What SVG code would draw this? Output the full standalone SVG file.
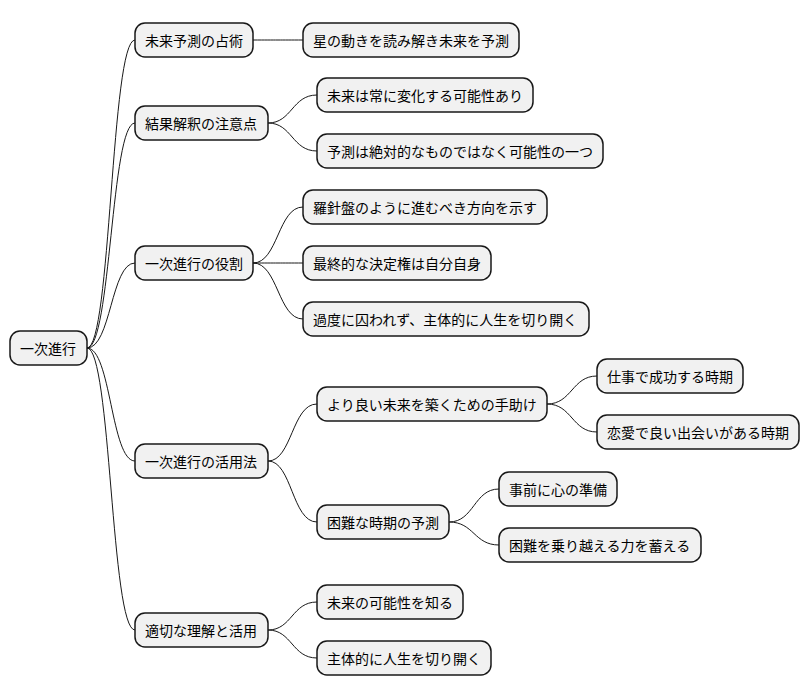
<svg xmlns="http://www.w3.org/2000/svg" width="810" height="696" viewBox="0 0 810 696">
<style>
.n rect{fill:#F1F1F1;stroke:#181818;stroke-width:1.5}
.n text{font-family:"Noto Sans CJK JP","Noto Sans CJK SC",sans-serif;font-size:14px;fill:#000;dominant-baseline:central}
#edges path{fill:none;stroke:#181818;stroke-width:1}
</style>
<rect width="810" height="696" fill="#fff"/>
<g id="edges">
<path d="M87 348 C111 348 111 40 135 40"/>
<path d="M87 348 C111 348 111 123 135 123"/>
<path d="M87 348 C111 348 111 263 135 263"/>
<path d="M87 348 C111 348 111 461 135 461"/>
<path d="M87 348 C111 348 111 630 135 630"/>
<path d="M253 40 C278 40 278 40 303 40"/>
<path d="M268 123 C292 123 292 95 317 95"/>
<path d="M268 123 C292 123 292 151 317 151"/>
<path d="M253 263 C278 263 278 207 303 207"/>
<path d="M253 263 C278 263 278 263 303 263"/>
<path d="M253 263 C278 263 278 319 303 319"/>
<path d="M268 461 C292 461 292 404 317 404"/>
<path d="M268 461 C292 461 292 522 317 522"/>
<path d="M268 630 C292 630 292 602 317 602"/>
<path d="M268 630 C292 630 292 658 317 658"/>
<path d="M547 404 C572 404 572 376 597 376"/>
<path d="M547 404 C572 404 572 432 597 432"/>
<path d="M449 522 C474 522 474 489 499 489"/>
<path d="M449 522 C474 522 474 545 499 545"/>
</g>
<g id="root" class="n"><rect x="10" y="331" width="77" height="34" rx="10"/><text x="20" y="348">一次進行</text></g>
<g id="a1" class="n"><rect x="135" y="23" width="118" height="34" rx="10"/><text x="145" y="40">未来予測の占術</text></g>
<g id="a2" class="n"><rect x="135" y="106" width="133" height="34" rx="10"/><text x="145" y="123">結果解釈の注意点</text></g>
<g id="a3" class="n"><rect x="135" y="246" width="118" height="34" rx="10"/><text x="145" y="263">一次進行の役割</text></g>
<g id="a4" class="n"><rect x="135" y="444" width="133" height="34" rx="10"/><text x="145" y="461">一次進行の活用法</text></g>
<g id="a5" class="n"><rect x="135" y="613" width="133" height="34" rx="10"/><text x="145" y="630">適切な理解と活用</text></g>
<g id="b1" class="n"><rect x="303" y="23" width="216" height="34" rx="10"/><text x="313" y="40">星の動きを読み解き未来を予測</text></g>
<g id="b2" class="n"><rect x="317" y="78" width="216" height="34" rx="10"/><text x="327" y="95">未来は常に変化する可能性あり</text></g>
<g id="b3" class="n"><rect x="317" y="134" width="286" height="34" rx="10"/><text x="327" y="151">予測は絶対的なものではなく可能性の一つ</text></g>
<g id="b4" class="n"><rect x="303" y="190" width="244" height="34" rx="10"/><text x="313" y="207">羅針盤のように進むべき方向を示す</text></g>
<g id="b5" class="n"><rect x="303" y="246" width="188" height="34" rx="10"/><text x="313" y="263">最終的な決定権は自分自身</text></g>
<g id="b6" class="n"><rect x="303" y="302" width="286" height="34" rx="10"/><text x="313" y="319">過度に囚われず、主体的に人生を切り開く</text></g>
<g id="b7" class="n"><rect x="317" y="387" width="230" height="34" rx="10"/><text x="327" y="404">より良い未来を築くための手助け</text></g>
<g id="b8" class="n"><rect x="317" y="505" width="132" height="34" rx="10"/><text x="327" y="522">困難な時期の予測</text></g>
<g id="b9" class="n"><rect x="317" y="585" width="146" height="34" rx="10"/><text x="327" y="602">未来の可能性を知る</text></g>
<g id="b10" class="n"><rect x="317" y="641" width="174" height="34" rx="10"/><text x="327" y="658">主体的に人生を切り開く</text></g>
<g id="c1" class="n"><rect x="597" y="359" width="146" height="34" rx="10"/><text x="607" y="376">仕事で成功する時期</text></g>
<g id="c2" class="n"><rect x="597" y="415" width="202" height="34" rx="10"/><text x="607" y="432">恋愛で良い出会いがある時期</text></g>
<g id="c3" class="n"><rect x="499" y="472" width="118" height="34" rx="10"/><text x="509" y="489">事前に心の準備</text></g>
<g id="c4" class="n"><rect x="499" y="528" width="202" height="34" rx="10"/><text x="509" y="545">困難を乗り越える力を蓄える</text></g>
</svg>
